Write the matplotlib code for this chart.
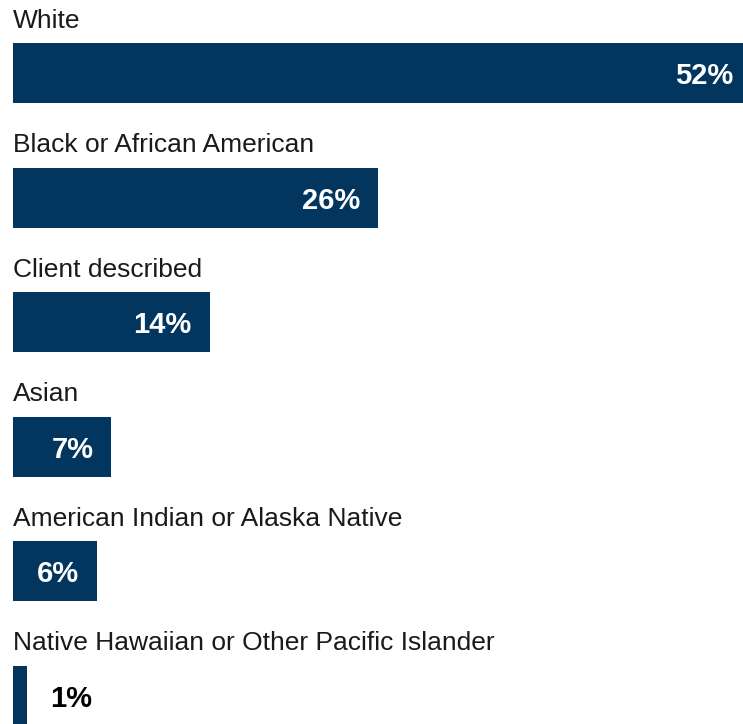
import matplotlib.pyplot as plt

plt.rcParams['font.family'] = ['Liberation Sans', 'DejaVu Sans']

groups = ["White", "Black or African American", "Client described", "Asian",
          "American Indian or Alaska Native",
          "Native Hawaiian or Other Pacific Islander"]
shares = [52, 26, 14, 7, 6, 1]
labels = ["52%", "26%", "14%", "7%", "6%", "1%"]

navy = "#03365f"
row = 124.6          # pixels between bar centres
px = 730 / 52        # pixels per percentage point

fig = plt.figure(figsize=(7.43, 7.24), dpi=100)
ax = fig.add_axes([0, 0, 1, 1])
ax.set_xlim(-13 / px, 52)
ax.set_ylim(5.225, -0.586)
ax.axis("off")

pos = list(range(len(groups)))
ax.barh(pos, shares, height=60 / row, left=0, color=navy)

for i, (g, v, lab) in enumerate(zip(groups, shares, labels)):
    ax.text(0, i - 45.5 / row, g, fontsize=19, color="#1a1a1a",
            ha="left", va="baseline")
    if v >= 3:
        # the widest bar runs to the edge, so its label sits a bit closer
        pad = 10 if v == max(shares) else 18
        ax.text(v - pad / px, i + 11 / row, lab, fontsize=21,
                fontweight="bold", color="white", ha="right", va="baseline")
    else:
        ax.text(v + 23 / px, i + 11 / row, lab, fontsize=21,
                fontweight="bold", color="black", ha="left", va="baseline")

fig.savefig("out.png", dpi=100)
